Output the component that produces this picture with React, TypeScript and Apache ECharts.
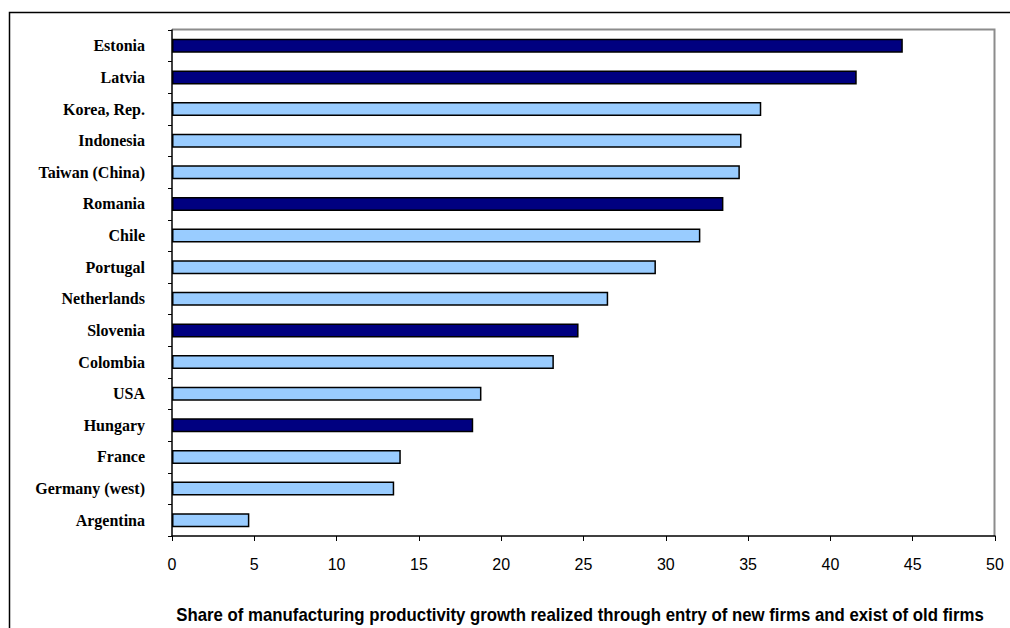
import React, { useEffect, useRef } from "react";
import * as echarts from "echarts";

const countries = [
  "Estonia", "Latvia", "Korea, Rep.", "Indonesia", "Taiwan (China)", "Romania",
  "Chile", "Portugal", "Netherlands", "Slovenia", "Colombia", "USA",
  "Hungary", "France", "Germany (west)", "Argentina",
];
const shares = [44.4, 41.6, 35.8, 34.6, 34.5, 33.5, 32.1, 29.4, 26.5, 24.7, 23.2, 18.8, 18.3, 13.9, 13.5, 4.7];
const transition = [true, true, false, false, false, true, false, false, false, true, false, false, true, false, false, false];
const xTicks = { min: 0, max: 50, interval: 5 };
const xTitle = "Share of manufacturing productivity growth realized through entry of new firms and exist of old firms";

const DARK = "#000080";
const LIGHT = "#99CCFF";

export default function App() {
  const ref = useRef<HTMLDivElement>(null);
  useEffect(() => {
    if (!ref.current) return;
    const chart = echarts.init(ref.current, undefined, { renderer: "svg" });
    chart.setOption({
      animation: false,
      backgroundColor: "#ffffff",
      grid: { left: 172, top: 30, right: 15, bottom: 92, show: false },
      xAxis: {
        type: "value",
        min: xTicks.min,
        max: xTicks.max,
        interval: xTicks.interval,
        axisLine: { show: true, lineStyle: { color: "#000", width: 1.5 } },
        axisTick: { show: true, length: 5, lineStyle: { color: "#000", width: 1 } },
        axisLabel: { color: "#000", fontFamily: "Liberation Sans, Arial, sans-serif", fontSize: 16, margin: 20 },
        splitLine: { show: false },
      },
      yAxis: {
        type: "category",
        data: countries,
        inverse: true,
        axisLine: { show: true, lineStyle: { color: "#000", width: 1.5 } },
        axisTick: { show: true, length: 4, lineStyle: { color: "#000", width: 1 } },
        axisLabel: {
          color: "#000",
          fontFamily: "Liberation Serif, Times New Roman, serif",
          fontWeight: "bold",
          fontSize: 16,
          margin: 27,
        },
      },
      graphic: [
        {
          type: "rect",
          shape: { x: 9.5, y: 12.5, width: 1100, height: 800 },
          style: { fill: "none", stroke: "#000", lineWidth: 1.5 },
          silent: true,
          z: -10,
        },
        {
          type: "polyline",
          shape: { points: [[172, 29.5], [994.5, 29.5], [994.5, 536]] },
          style: { fill: "none", stroke: "#8c8c8c", lineWidth: 2 },
          silent: true,
          z: -5,
        },
        {
          type: "text",
          x: 580,
          y: 615,
          scaleY: 1.1,
          style: {
            text: xTitle,
            fill: "#000",
            font: "bold 16.8px 'Liberation Sans', Arial, sans-serif",
            textAlign: "center",
            textVerticalAlign: "middle",
          },
        },
      ],
      series: [
        {
          type: "bar",
          barWidth: 14,
          data: shares.map((v, i) => ({
            value: v,
            itemStyle: { color: transition[i] ? DARK : LIGHT },
          })),
          itemStyle: { borderColor: "#000", borderWidth: 1.5 },
        },
      ],
    });
    return () => chart.dispose();
  }, []);
  return (
    <div
      ref={ref}
      style={{ position: "fixed", left: 0, top: 0, width: 1010, height: 628 }}
    />
  );
}
